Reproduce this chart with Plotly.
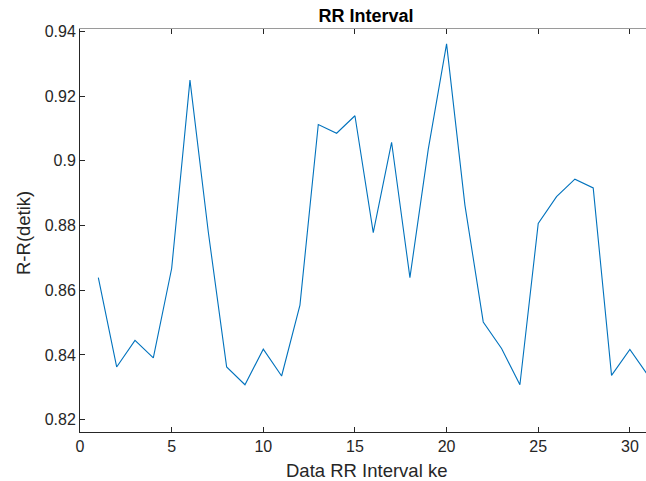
import plotly.graph_objects as go

x_index = list(range(1, 32))
rr_values = [0.8639, 0.8363, 0.8445, 0.8391, 0.8667, 0.9249, 0.8780, 0.8363,
             0.8308, 0.8418, 0.8335, 0.8554, 0.9112, 0.9085, 0.9139, 0.8778,
             0.9057, 0.8639, 0.9035, 0.9361, 0.8863, 0.8502, 0.8420, 0.8308,
             0.8806, 0.8889, 0.8943, 0.8916, 0.8337, 0.8417, 0.8336]

x_ticks = [0, 5, 10, 15, 20, 25, 30]
y_ticks = [0.82, 0.84, 0.86, 0.88, 0.90, 0.92, 0.94]
y_tick_labels = ["0.82", "0.84", "0.86", "0.88", "0.9", "0.92", "0.94"]

FONT = "Liberation Sans, Arial, Helvetica, sans-serif"
AX = "#262626"
x_range = [0, 30.88]
y_range = [0.8162, 0.9407]

W, H = 646, 481
L, R, T, B = 80, 0, 29, 49
PW, PH = W - L - R, H - T - B

fig = go.Figure()
fig.add_trace(go.Scatter(x=x_index, y=rr_values, mode="lines",
                         line=dict(color="#0072BD", width=1.1),
                         showlegend=False, hoverinfo="skip"))
# invisible trace to activate top box axis
fig.add_trace(go.Scatter(x=[x_range[0]], y=[y_range[0]], xaxis="x2", mode="markers",
                         marker=dict(opacity=0), showlegend=False, hoverinfo="skip"))

fig.update_layout(
    width=W, height=H,
    margin=dict(l=L, r=R, t=T, b=B),
    paper_bgcolor="white", plot_bgcolor="white",
    font=dict(family=FONT, color=AX, size=16),
    title=dict(text="<b>RR Interval</b>", x=366 / W, xanchor="center",
               y=1 - 15.5 / H, yanchor="middle",
               font=dict(size=18, color="black", family=FONT)),
    xaxis=dict(range=x_range, tickvals=x_ticks, ticks="inside", ticklen=5,
               tickcolor=AX, showline=True, linecolor=AX, linewidth=1,
               showgrid=False, zeroline=False, tickfont=dict(size=16)),
    xaxis2=dict(range=x_range, overlaying="x", side="top", tickvals=x_ticks,
                ticks="inside", ticklen=5, tickcolor=AX, showline=True,
                linecolor="#9a9a9a", linewidth=1, showticklabels=False,
                showgrid=False, zeroline=False),
    yaxis=dict(range=y_range, tickvals=y_ticks, ticktext=y_tick_labels,
               ticks="inside", ticklen=5, tickcolor=AX, showline=True,
               linecolor=AX, linewidth=1, showgrid=False, zeroline=False,
               tickfont=dict(size=16)),
    annotations=[
        dict(text="Data RR Interval ke", xref="paper", yref="paper",
             x=(366 - L) / PW, y=(H - B - 470) / PH, xanchor="center",
             yanchor="middle", showarrow=False, font=dict(size=18.5, color=AX)),
        dict(text="R-R(detik)", xref="paper", yref="paper",
             x=(23 - L) / PW, y=(H - B - 233) / PH, xanchor="center",
             yanchor="middle", textangle=-90, showarrow=False,
             font=dict(size=18.5, color=AX)),
    ],
)

fig.write_html("out.html")
